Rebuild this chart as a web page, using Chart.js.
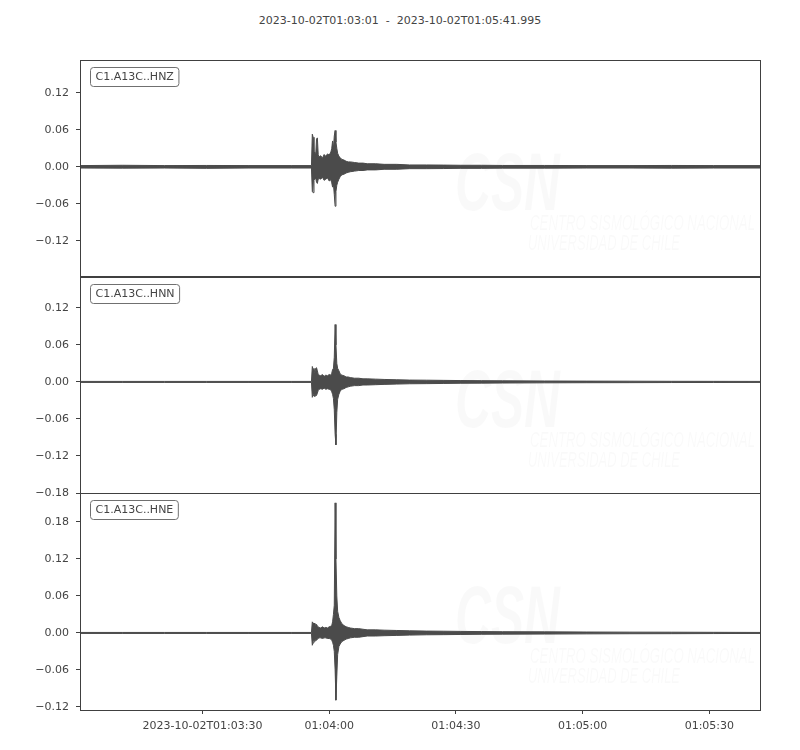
<!DOCTYPE html>
<html>
<head>
<meta charset="utf-8">
<script src="https://cdn.jsdelivr.net/npm/chart.js@4.4.0/dist/chart.umd.min.js"></script>
<style>
body{margin:0;background:#fff;}
#wrap{position:relative;width:800px;height:750px;}
canvas{position:absolute;left:0;}
#titulo{position:absolute;top:14px;left:0;width:800px;text-align:center;font:11px "DejaVu Sans";line-height:14px;color:#444;white-space:pre;}
</style>
</head>
<body>
<div id="wrap">
<div id="titulo">2023-10-02T01:03:01  -  2023-10-02T01:05:41.995</div>
<canvas id="c-hnz" width="800" height="250" style="top:40px"></canvas>
<canvas id="c-hnn" width="800" height="256" style="top:257px"></canvas>
<canvas id="c-hne" width="800" height="277" style="top:473px"></canvas>
</div>
<script>
//DATOS: tiempo en segundos desde 2023-10-02T01:03:01, envolvente (max / min) de cada traza
const tiempo=[0,10,20,30,40,50,
  54.8,
  55.0,55.2,55.4,55.6,55.8,56.0,56.2,56.4,56.6,
  57.0,57.4,57.8,58.2,58.6,59.0,59.4,
  59.6,59.8,60.0,60.2,60.4,60.6,60.8,61.0,
  61.3,61.6,62.0,62.5,63.0,63.5,
  64,65,66,67,68,
  70,72,75,78,
  82,86,90,95,100,
  110,120,130,140,150,160.995];

const hnzArriba=[0.002,0.0025,0.002,0.0022,0.002,0.002,
  0.002,
  0.053,0.048,0.020,0.024,0.018,0.045,0.047,0.020,0.016,
  0.018,0.014,0.020,0.017,0.021,0.019,0.024,
  0.030,0.042,0.030,0.050,0.059,0.040,0.030,0.022,
  0.017,0.015,0.012,0.011,0.009,0.008,
  0.008,0.007,0.006,0.006,0.005,
  0.005,0.004,0.004,0.003,
  0.003,0.0028,0.0025,0.0025,0.0022,
  0.0022,0.002,0.002,0.0022,0.002,0.002];
const hnzAbajo=[-0.002,-0.0022,-0.002,-0.0025,-0.002,-0.002,
  -0.002,
  -0.040,-0.042,-0.022,-0.020,-0.018,-0.025,-0.027,-0.020,-0.019,
  -0.020,-0.017,-0.022,-0.020,-0.018,-0.023,-0.021,
  -0.026,-0.033,-0.028,-0.045,-0.064,-0.040,-0.030,-0.025,
  -0.020,-0.016,-0.013,-0.012,-0.010,-0.009,
  -0.008,-0.007,-0.006,-0.006,-0.005,
  -0.005,-0.004,-0.004,-0.003,
  -0.003,-0.0028,-0.0025,-0.0025,-0.0022,
  -0.0022,-0.002,-0.002,-0.0022,-0.002,-0.002];

const hnnArriba=[0.0008,0.0008,0.0008,0.0008,0.0008,0.0008,
  0.0008,
  0.025,0.020,0.022,0.015,0.022,0.023,0.018,0.012,0.011,
  0.010,0.012,0.009,0.011,0.010,0.012,0.011,
  0.014,0.020,0.022,0.040,0.093,0.060,0.030,0.022,
  0.018,0.013,0.011,0.010,0.008,0.008,
  0.007,0.006,0.006,0.005,0.005,
  0.0045,0.004,0.0035,0.003,
  0.0028,0.0025,0.0022,0.002,0.0018,
  0.0015,0.0013,0.0012,0.001,0.0009,0.0008];
const hnnAbajo=[-0.0008,-0.0008,-0.0008,-0.0008,-0.0008,-0.0008,
  -0.0008,
  -0.025,-0.022,-0.020,-0.024,-0.021,-0.022,-0.018,-0.014,-0.012,
  -0.011,-0.012,-0.010,-0.012,-0.011,-0.012,-0.013,
  -0.016,-0.020,-0.027,-0.045,-0.085,-0.102,-0.050,-0.028,
  -0.020,-0.015,-0.012,-0.011,-0.009,-0.008,
  -0.007,-0.006,-0.006,-0.005,-0.005,
  -0.0045,-0.004,-0.0035,-0.003,
  -0.0028,-0.0025,-0.0022,-0.002,-0.0018,
  -0.0015,-0.0013,-0.0012,-0.001,-0.0009,-0.0008];

const hneArriba=[0.0008,0.0008,0.0008,0.0008,0.0008,0.0008,
  0.0008,
  0.018,0.016,0.014,0.016,0.012,0.014,0.011,0.010,0.009,
  0.008,0.010,0.008,0.009,0.008,0.010,0.011,
  0.012,0.018,0.030,0.045,0.211,0.120,0.060,0.035,
  0.025,0.020,0.015,0.012,0.010,0.009,
  0.008,0.007,0.007,0.006,0.005,
  0.005,0.0045,0.004,0.0035,
  0.003,0.0028,0.0025,0.0022,0.002,
  0.0018,0.0015,0.0013,0.0012,0.001,0.0008];
const hneAbajo=[-0.0008,-0.0008,-0.0008,-0.0008,-0.0008,-0.0008,
  -0.0008,
  -0.020,-0.016,-0.012,-0.014,-0.011,-0.012,-0.010,-0.009,-0.008,
  -0.008,-0.009,-0.008,-0.008,-0.009,-0.009,-0.010,
  -0.012,-0.015,-0.020,-0.030,-0.060,-0.109,-0.070,-0.035,
  -0.022,-0.018,-0.014,-0.012,-0.010,-0.009,
  -0.008,-0.007,-0.007,-0.006,-0.005,
  -0.005,-0.0045,-0.004,-0.0035,
  -0.003,-0.0028,-0.0025,-0.0022,-0.002,
  -0.0018,-0.0015,-0.0013,-0.0012,-0.001,-0.0008];

//ETIQUETAS DE LOS EJES
const ticksX=[29,59,89,119,149];
const etiquetasX=['2023-10-02T01:03:30','01:04:00','01:04:30','01:05:00','01:05:30'];
const ticksHNZ=[-0.12,-0.06,0,0.06,0.12];
const ticksHNN=[-0.18,-0.12,-0.06,0,0.06,0.12];
const ticksHNE=[-0.12,-0.06,0,0.06,0.12,0.18];

const colorTraza='#4b4b4b';
const colorEje='#404040';
const fuente={family:'DejaVu Sans',size:11};

//texto de la marca de agua ajustado a un ancho dado
function textoAncho(ctx,texto,x,y,ancho){
  const w=ctx.measureText(texto).width;
  ctx.save();
  ctx.translate(x,y);
  ctx.scale(ancho/w,1);
  ctx.fillText(texto,0,0);
  ctx.restore();
}

//marco, etiqueta de la estacion y marca de agua
const marco={
  id:'marco',
  beforeDatasetsDraw(chart){
    const a=chart.chartArea, ctx=chart.ctx;
    ctx.save();
    ctx.beginPath();
    ctx.rect(a.left,a.top,a.right-a.left,a.bottom-a.top);
    ctx.clip();
    ctx.fillStyle='rgba(0,0,0,0.025)';
    ctx.font='italic bold 82px "Liberation Sans"';
    textoAncho(ctx,'CSN',a.left+375,a.top+150,105);
    ctx.font='italic 22px "Liberation Sans"';
    textoAncho(ctx,'CENTRO SISMOLÓGICO NACIONAL',a.left+450,a.top+170,225);
    textoAncho(ctx,'UNIVERSIDAD DE CHILE',a.left+448,a.top+190,152);
    ctx.restore();
  },
  afterDraw(chart,args,opts){
    const a=chart.chartArea, ctx=chart.ctx;
    ctx.save();
    ctx.strokeStyle=colorEje;
    ctx.lineWidth=1;
    ctx.strokeRect(Math.round(a.left)+0.5,Math.round(a.top)+0.5,Math.round(a.right-a.left),Math.round(a.bottom-a.top));
    ctx.font='11px "DejaVu Sans"';
    const w=ctx.measureText(opts.nombre).width+10;
    const x=Math.round(a.left)+10.5, y=Math.round(a.top)+7.5;
    ctx.beginPath();
    ctx.roundRect(x,y,w,19,3);
    ctx.fillStyle='#fff';
    ctx.fill();
    ctx.strokeStyle='#707070';
    ctx.stroke();
    ctx.fillStyle='#444';
    ctx.textBaseline='middle';
    ctx.fillText(opts.nombre,x+5,y+10);
    ctx.restore();
  }
};

function formatoY(v){
  return (v<0?'\u2212':'')+Math.abs(v).toFixed(2);
}

function crearPanel(id,nombre,arriba,abajo,min,max,ticksY,mostrarX,padTop,padBottom){
  const canvas=document.querySelector(id);
  return new Chart(canvas,{
    type:'line',
    data:{
      datasets:[
        {data:abajo.map((v,i)=>({x:tiempo[i],y:v})),borderColor:colorTraza,borderWidth:1,pointRadius:0,fill:false},
        {data:arriba.map((v,i)=>({x:tiempo[i],y:v})),borderColor:colorTraza,backgroundColor:colorTraza,borderWidth:1,pointRadius:0,fill:'-1'}
      ]
    },
    plugins:[marco],
    options:{
      responsive:false,
      animation:false,
      layout:{padding:{top:padTop,bottom:padBottom,left:0,right:40}},
      plugins:{legend:{display:false},tooltip:{enabled:false},marco:{nombre:nombre}},
      scales:{
        x:{
          type:'linear',min:0,max:160.995,display:mostrarX,
          afterBuildTicks:s=>{s.ticks=ticksX.map(v=>({value:v}));},
          afterFit:s=>{if(mostrarX){s.height=40;}},
          grid:{drawOnChartArea:false,tickLength:4,color:colorEje},
          border:{display:false},
          ticks:{autoSkip:false,maxRotation:0,minRotation:0,padding:6,color:'#444',font:fuente,
            callback:(v,i)=>etiquetasX[i]}
        },
        y:{
          min:min,max:max,
          afterBuildTicks:s=>{s.ticks=ticksY.map(v=>({value:v}));},
          afterFit:s=>{s.width=80;},
          grid:{drawOnChartArea:false,tickLength:4,color:colorEje},
          border:{display:false},
          ticks:{padding:7,color:'#444',font:fuente,callback:v=>formatoY(v)}
        }
      }
    }
  });
}

crearPanel('#c-hnz','C1.A13C..HNZ',hnzArriba,hnzAbajo,-0.178,0.1735,ticksHNZ,false,20,13);
crearPanel('#c-hnn','C1.A13C..HNN',hnnArriba,hnnAbajo,-0.18,0.170,ticksHNN,false,20,20);
crearPanel('#c-hne','C1.A13C..HNE',hneArriba,hneAbajo,-0.125,0.227,ticksHNE,true,20,0);
</script>
</body>
</html>
